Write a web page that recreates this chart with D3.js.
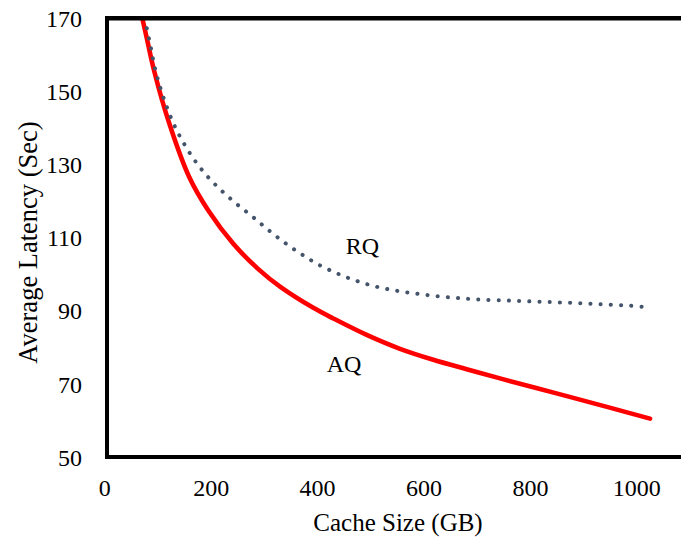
<!DOCTYPE html>
<html>
<head>
<meta charset="utf-8">
<script src="https://cdn.jsdelivr.net/npm/d3@7/dist/d3.min.js"></script>
<style>
  html, body { margin: 0; padding: 0; background: #fff; }
  svg { display: block; }
  text { font-family: "Liberation Serif", "Times New Roman", serif; fill: #000; }
</style>
</head>
<body>
<svg id="chart" width="681" height="539"></svg>
<script>
// ---- data ----
const xTicks = [0, 200, 400, 600, 800, 1000];
const yTicks = [50, 70, 90, 110, 130, 150, 170];

const rqSize = [77, 79.5, 87, 94.5, 104.5, 116.5, 131, 149, 169.2, 193, 220, 248.9, 279, 308.3, 338.3, 370.3, 403, 438, 473.7, 510.7, 548.3, 585.9, 624.1, 662.4, 700.6, 757.5, 815.2, 872.9, 930.5, 988.2, 1010];
const rqLatency = [170, 167.6, 162.3, 156.8, 151.4, 146.1, 140.9, 135.9, 131.3, 126.9, 122.9, 119.2, 115.7, 112.1, 108.7, 105.5, 102.6, 100.2, 98.2, 96.6, 95.5, 94.7, 94.0, 93.5, 93.1, 92.8, 92.5, 92.2, 91.8, 91.4, 91.1];

const aqSize = [71.4, 80, 93.4, 122.2, 159.8, 195.5, 242.5, 289.5, 330.3, 392.9, 430.5, 493.2, 555.8, 618.4, 681.2, 743.8, 850, 950, 1025.8];
const aqLatency = [170, 164.5, 155.8, 141.2, 126.5, 117.4, 108.3, 101.4, 96.6, 90.8, 87.9, 83.4, 79.6, 76.6, 74.0, 71.5, 67.4, 63.5, 60.5];

const seriesNames = ["RQ", "AQ"];
const labelSize = [454, 418];
const labelLatency = [105.6, 73.3];

const xTitle = "Cache Size (GB)";
const yTitle = "Average Latency (Sec)";

// ---- chart ----
const svg = d3.select("#chart");
const x = d3.scaleLinear().domain([0, 1000]).range([104.3, 636.3]);
const y = d3.scaleLinear().domain([50, 170]).range([457, 18.3]);

const rq = rqSize.map((v, i) => [v, rqLatency[i]]);
const aq = aqSize.map((v, i) => [v, aqLatency[i]]);

const line = d3.line().x(d => x(d[0])).y(d => y(d[1])).curve(d3.curveCatmullRom.alpha(0.5));

svg.append("path").datum(aq)
  .attr("d", line)
  .attr("fill", "none")
  .attr("stroke", "#FF0000")
  .attr("stroke-width", 4.6)
  .attr("stroke-linecap", "round");

svg.append("path").datum(rq)
  .attr("d", line)
  .attr("fill", "none")
  .attr("stroke", "#44546A")
  .attr("stroke-width", 4)
  .attr("stroke-linecap", "round")
  .attr("stroke-dasharray", "0.1 10.1");

// axes lines
const axisColor = "#000";
svg.append("line")
  .attr("x1", x(0) + 2.7).attr("x2", x(0) + 2.7)
  .attr("y1", y(170)).attr("y2", y(50) + 2)
  .attr("stroke", axisColor).attr("stroke-width", 4);
svg.append("line")
  .attr("x1", x(0) + 0.7).attr("x2", 681)
  .attr("y1", y(50)).attr("y2", y(50))
  .attr("stroke", axisColor).attr("stroke-width", 4);
svg.append("line")
  .attr("x1", x(0) + 0.7).attr("x2", 681)
  .attr("y1", y(170)).attr("y2", y(170))
  .attr("stroke", axisColor).attr("stroke-width", 4.6);

// tick labels using d3 axes (no tick lines)
const xAxis = d3.axisBottom(x).tickValues(xTicks).tickSize(0).tickPadding(0).tickFormat(d3.format("d"));
const gx = svg.append("g").attr("transform", `translate(0, ${y(50)})`).call(xAxis);
gx.select(".domain").remove();
gx.selectAll("text")
  .attr("y", 0).attr("dy", null)
  .attr("transform", "translate(0, 39)")
  .style("font-family", '"Liberation Serif", serif')
  .style("font-size", "24px")
  .attr("fill", "#000");

const yAxis = d3.axisLeft(y).tickValues(yTicks).tickSize(0).tickPadding(0).tickFormat(d3.format("d"));
const gy = svg.append("g").attr("transform", `translate(82, 0)`).call(yAxis);
gy.select(".domain").remove();
gy.selectAll("text")
  .attr("x", 0).attr("dy", "0.34em")
  .style("font-family", '"Liberation Serif", serif')
  .style("font-size", "24px")
  .attr("fill", "#000");

// titles
svg.append("text")
  .attr("x", 398).attr("y", 531)
  .attr("text-anchor", "middle")
  .style("font-size", "25px")
  .text(xTitle);
svg.append("text")
  .attr("transform", "translate(36.5, 242.5) rotate(-90)")
  .attr("text-anchor", "middle")
  .style("font-size", "26.5px")
  .text(yTitle);

// series labels
seriesNames.forEach((n, i) => {
  svg.append("text")
    .attr("x", x(labelSize[i])).attr("y", y(labelLatency[i]))
    .style("font-size", "24px")
    .text(n);
});
</script>
</body>
</html>
